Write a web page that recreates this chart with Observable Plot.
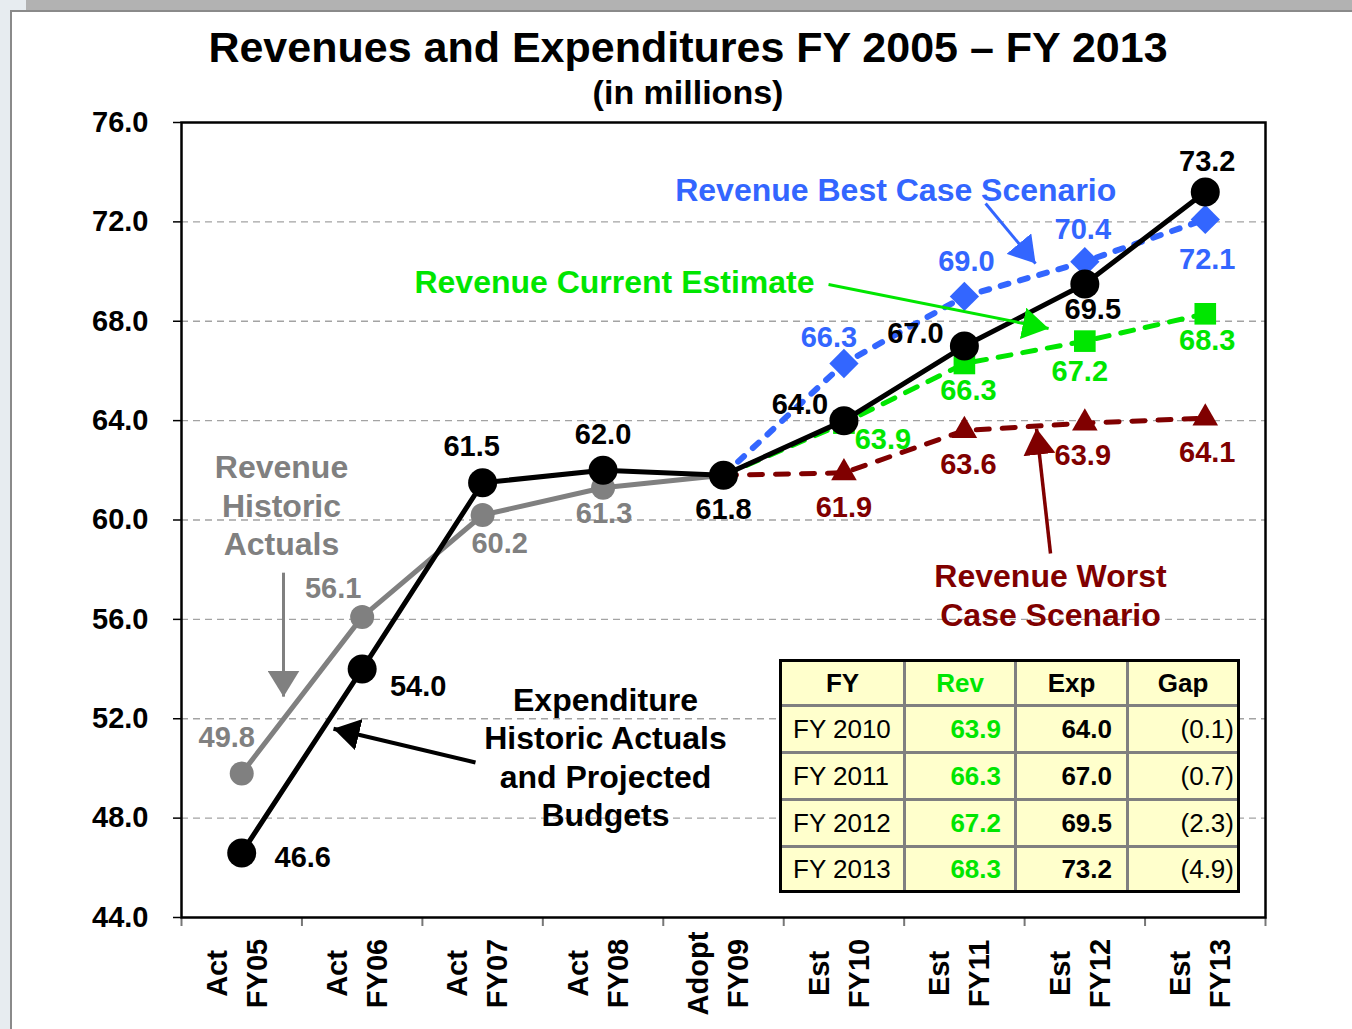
<!DOCTYPE html>
<html>
<head>
<meta charset="utf-8">
<script src="https://cdn.jsdelivr.net/npm/d3@7"></script>
<script src="https://cdn.jsdelivr.net/npm/@observablehq/plot@0.6"></script>
<style>
  html, body { margin: 0; padding: 0; }
  body { background: #e7ecf0; font-family: "Liberation Sans", Arial, sans-serif; }
  #page { position: relative; width: 1352px; height: 1029px; overflow: hidden; }
  #topbar { position: absolute; left: 26px; top: 0; width: 1326px; height: 10px; background: #b2b2b2; }
  #sheet { position: absolute; left: 10px; top: 10px; right: 0; bottom: 0; background: #fff;
           border-left: 2px solid #8a8a8a; border-top: 2px solid #8a8a8a; }
  #chart { position: absolute; left: 0; top: 0; }
  .title { position: absolute; left: 188px; width: 1000px; text-align: center; font-weight: bold; color: #000; line-height: 1; white-space: nowrap; }
  #t1 { top: 25.5px; font-size: 43px; }
  #t2 { top: 75px; font-size: 34px; }
  #tbl { position: absolute; left: 779px; top: 659px; width: 455px; height: 228px;
         border: 3px solid #000; background: #808080; display: grid;
         grid-template-columns: 121px 108px 109px 108px; grid-template-rows: 42px 44px 44px 44px 42px;
         gap: 3px; font-size: 26px; color: #000; }
  #tbl div { background: #ffffcc; display: flex; align-items: center; white-space: nowrap; }
  #tbl .h { justify-content: center; font-weight: bold; }
  #tbl .fy { justify-content: flex-start; padding-left: 11px; }
  #tbl .num { justify-content: flex-end; font-weight: bold; }
  #tbl .rev { padding-right: 13px; }
  #tbl .exp { padding-right: 14px; }
  #tbl .gap { padding-right: 3px; font-weight: normal; }
</style>
</head>
<body>
<div id="page">
  <div id="topbar"></div>
  <div id="sheet"></div>
  <div id="chart"></div>
  <div class="title" id="t1">Revenues and Expenditures FY 2005 – FY 2013</div>
  <div class="title" id="t2">(in millions)</div>
  <div id="tbl"></div>
</div>
<script>
// ---------- data ----------
const categories = ["Act\nFY05", "Act\nFY06", "Act\nFY07", "Act\nFY08", "Adopt\nFY09",
                    "Est\nFY10", "Est\nFY11", "Est\nFY12", "Est\nFY13"];
const expenditure     = [46.6, 54.0, 61.5, 62.0, 61.8, 64.0, 67.0, 69.5, 73.2]; // FY05..FY13
const revenueHistoric = [49.8, 56.1, 60.2, 61.3, 61.8];                         // FY05..FY09
const revenueBest     = [61.8, 66.3, 69.0, 70.4, 72.1];                         // FY09..FY13
const revenueCurrent  = [61.8, 63.9, 66.3, 67.2, 68.3];                         // FY09..FY13
const revenueWorst    = [61.8, 61.9, 63.6, 63.9, 64.1];                         // FY09..FY13
const yTicks = [44, 48, 52, 56, 60, 64, 68, 72, 76];

const tableYears = ["FY 2010", "FY 2011", "FY 2012", "FY 2013"];
const tableRev   = [63.9, 66.3, 67.2, 68.3];
const tableExp   = [64.0, 67.0, 69.5, 73.2];
const tableHead  = ["FY", "Rev", "Exp", "Gap"];

// ---------- styling / layout ----------
const BLUE = "#3366ff", GREEN = "#00e600", RED = "#800000", GRAY = "#808080", BLACK = "#000";
const FONT = "Liberation Sans, Arial, sans-serif";

// label offsets (pixels) per point, null = no label
const expOffsets  = [[61, 5], [56, 18], [-11, -36], [0, -36], [0, 34], [-44, -16], [-49, -12], [8, 26], [2, -30]];
const histOffsets = [[-15, -36], [-29, -28], [17, 29], [1, 26], null];
const bestOffsets = [null, [-15, -26], [2, -35], [-2, -32], [2, 40]];
const curOffsets  = [null, [39, 17], [4, 27], [-5, 31], [2, 27]];
const worstOffsets= [null, [0, 35], [4, 34], [-2, 33], [2, 35]];

// annotations in data coordinates (x = category index units, y = millions)
const noteTexts = [
  {text: "Revenue Best Case Scenario", x: 5.93, y: 73.34, color: BLUE},
  {text: "Revenue Current Estimate", x: 3.595, y: 69.62, color: GREEN},
  {text: "Revenue Worst\nCase Scenario", x: 7.215, y: 57.02, color: RED},
  {text: "Revenue\nHistoric\nActuals", x: 0.83, y: 60.62, color: GRAY},
  {text: "Expenditure\nHistoric Actuals\nand Projected\nBudgets", x: 3.52, y: 50.5, color: BLACK}
];
const noteArrows = [
  {x1: 6.676, y1: 72.74, x2: 7.091, y2: 70.32, color: BLUE, w: 3},
  {x1: 5.372, y1: 69.48, x2: 7.199, y2: 67.71, color: GREEN, w: 3},
  {x1: 7.215, y1: 58.65, x2: 7.099, y2: 63.68, color: RED, w: 3.5},
  {x1: 0.847, y1: 57.88, x2: 0.847, y2: 52.89, color: GRAY, w: 3},
  {x1: 2.441, y1: 50.24, x2: 1.262, y2: 51.60, color: BLACK, w: 4}
];

function labelMarks(values, start, offsets, fill) {
  const marks = [];
  values.forEach((v, i) => {
    if (!offsets[i]) return;
    marks.push(Plot.text([v], {
      x: () => start + i + 0.5, y: d => d, text: d => d.toFixed(1),
      dx: offsets[i][0], dy: offsets[i][1], fill,
      fontSize: 29, fontWeight: "bold", textAnchor: "middle"
    }));
  });
  return marks;
}

const xAt = start => (d, i) => start + i + 0.5;

const chart = Plot.plot({
  width: 1352, height: 1029,
  marginLeft: 181, marginRight: 87, marginTop: 122, marginBottom: 112,
  style: {fontFamily: FONT, background: "transparent", overflow: "visible"},
  x: {type: "linear", domain: [0, 9]},
  y: {domain: [44, 76]},
  marks: [
    Plot.ruleY(yTicks.slice(1, -1), {stroke: "#a3a3a3", strokeWidth: 1.3, strokeDasharray: "7,5"}),
    // scenario lines (dashed)
    Plot.line(revenueBest, {x: xAt(4), y: d => d, stroke: BLUE, strokeWidth: 6, strokeDasharray: "8,12"}),
    Plot.line(revenueCurrent, {x: xAt(4), y: d => d, stroke: GREEN, strokeWidth: 5, strokeDasharray: "13,12"}),
    Plot.line(revenueWorst, {x: xAt(4), y: d => d, stroke: RED, strokeWidth: 5, strokeDasharray: "13,13"}),
    Plot.dot(revenueBest.slice(1), {x: xAt(5), y: d => d, symbol: "diamond2", r: 13.2, fill: BLUE, stroke: "none"}),
    Plot.dot(revenueCurrent.slice(1), {x: xAt(5), y: d => d, symbol: "square", r: 12.2, fill: GREEN, stroke: "none"}),
    Plot.dot(revenueWorst.slice(1), {x: xAt(5), y: d => d, symbol: "triangle", r: 9.5, fill: RED, stroke: "none"}),
    // historic revenue
    Plot.line(revenueHistoric, {x: xAt(0), y: d => d, stroke: GRAY, strokeWidth: 5}),
    Plot.dot(revenueHistoric, {x: xAt(0), y: d => d, r: 12, fill: GRAY, stroke: "none"}),
    // expenditure
    Plot.line(expenditure, {x: xAt(0), y: d => d, stroke: BLACK, strokeWidth: 5}),
    Plot.dot(expenditure, {x: xAt(0), y: d => d, r: 14.5, fill: BLACK, stroke: "none"}),
    // value labels
    ...labelMarks(revenueHistoric, 0, histOffsets, GRAY),
    ...labelMarks(revenueBest, 4, bestOffsets, BLUE),
    ...labelMarks(revenueCurrent, 4, curOffsets, GREEN),
    ...labelMarks(revenueWorst, 4, worstOffsets, RED),
    ...labelMarks(expenditure, 0, expOffsets, BLACK),
    // annotations
    Plot.text(noteTexts, {x: "x", y: "y", text: "text", fill: d => d.color, fontSize: 32, fontWeight: "bold",
                          textAnchor: "middle", lineAnchor: "middle", lineHeight: 1.2}),
    ...noteArrows.map(a => Plot.link([a], {x1: "x1", y1: "y1", x2: "x2", y2: "y2", stroke: a.color, strokeWidth: a.w})),
    // axes
    Plot.axisY({ticks: yTicks, tickFormat: d => d.toFixed(1), tickSize: 8, tickPadding: 25,
                fontSize: 29, fontWeight: "bold", color: BLACK, strokeWidth: 1.5}),
    Plot.axisX({ticks: d3.range(0, 10), tickFormat: () => "", tickSize: 9, stroke: "#777", strokeWidth: 2}),
    Plot.text(categories, {x: (d, i) => i + 0.5, text: d => d, frameAnchor: "bottom", dx: -8, dy: 56, rotate: -90,
                           textAnchor: "middle", lineAnchor: "middle", lineHeight: 1.38,
                           fontSize: 29, fontWeight: "bold", fill: BLACK}),
    Plot.frame({stroke: BLACK, strokeWidth: 2.5})
  ]
});

// filled arrowheads for annotation links
(function addHeads(svg) {
  const ns = "http://www.w3.org/2000/svg";
  const defs = document.createElementNS(ns, "defs");
  svg.insertBefore(defs, svg.firstChild);
  svg.querySelectorAll('g[aria-label="link"]').forEach((g, k) => {
    const color = g.getAttribute("stroke") || "#000";
    const m = document.createElementNS(ns, "marker");
    m.setAttribute("id", "head" + k);
    m.setAttribute("viewBox", "0 0 10 10");
    m.setAttribute("refX", "10");
    m.setAttribute("refY", "5");
    m.setAttribute("markerUnits", "userSpaceOnUse");
    m.setAttribute("markerWidth", "26");
    m.setAttribute("markerHeight", "32");
    m.setAttribute("preserveAspectRatio", "none");
    m.setAttribute("orient", "auto");
    const p = document.createElementNS(ns, "path");
    p.setAttribute("d", "M0,0L10,5L0,10Z");
    p.setAttribute("fill", color);
    p.setAttribute("stroke", "none");
    m.appendChild(p);
    defs.appendChild(m);
    g.querySelectorAll("path, line").forEach(el => el.setAttribute("marker-end", `url(#head${k})`));
  });
})(chart);

document.getElementById("chart").appendChild(chart);

// table
const tbl = document.getElementById("tbl");
const fmt = d3.format(".1f");
let html = tableHead.map((h, i) =>
  `<div class="h" style="${i === 1 ? "color:" + GREEN : ""}">${h}</div>`).join("");
tableYears.forEach((y, i) => {
  const gap = tableRev[i] - tableExp[i];
  const gapText = gap < 0 ? `(${fmt(-gap)})` : fmt(gap);
  html += `<div class="fy">${y}</div><div class="num rev" style="color:${GREEN}">${fmt(tableRev[i])}</div>` +
          `<div class="num exp">${fmt(tableExp[i])}</div><div class="num gap">${gapText}</div>`;
});
tbl.innerHTML = html;
</script>
</body>
</html>
